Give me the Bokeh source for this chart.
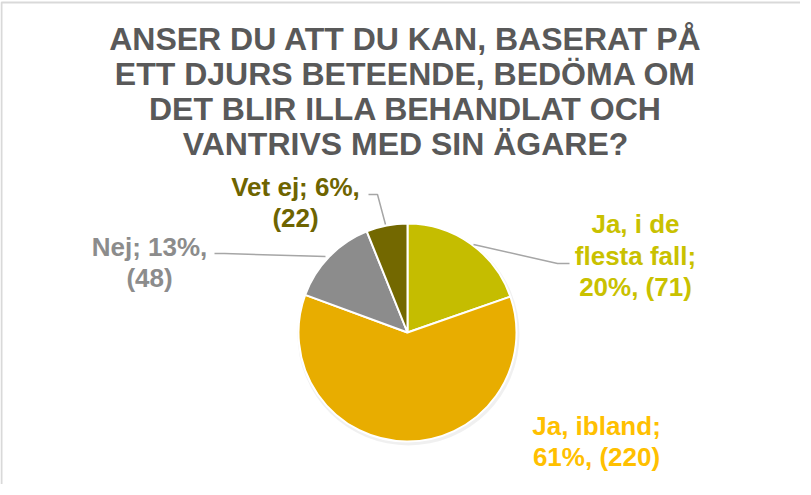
import numpy as np
import textwrap
from bokeh.plotting import figure
from bokeh.models import Range1d, ColumnDataSource
from bokeh.core.properties import value
from bokeh.embed import file_html
from bokeh.resources import INLINE

# ---- data ----
title_lines = ["ANSER DU ATT DU KAN, BASERAT PÅ",
               "ETT DJURS BETEENDE, BEDÖMA OM",
               "DET BLIR ILLA BEHANDLAT OCH",
               "VANTRIVS MED SIN ÄGARE?"]
categories = ["Ja, i de flesta fall", "Ja, ibland", "Nej", "Vet ej"]
counts = [71, 220, 48, 22]
percents = [20, 61, 13, 6]

# ---- styles / layout ----
slice_colors = ["#C5BD00", "#E8AD00", "#8C8C8C", "#736800"]
label_colors = ["#C9C100", "#FFC000", "#8C8C8C", "#6E6400"]
wrap_widths = [12, 11, 10, 11]
label_pos = [(643, 263), (604, 449), (157, 270), (303, 210)]  # reference pixel coords (block centres)
label_line_gap = 31.5
leaders = [[(481, 252), (565, 271), (577, 271)],
           None,
           [(222, 261), (232, 261), (333, 264)],
           [(376, 202), (385, 202), (393, 232)]]
title_x, title_y0, title_gap = 413, 46, 35

REF_H = 495
W, H = 800, 484
cx, cy, R = 415, 340, 109


def Y(y):
    return REF_H - y


p = figure(width=W, height=H, output_backend="svg", toolbar_location=None,
           x_range=Range1d(8, 8 + W), y_range=Range1d(REF_H - 8 - H, REF_H - 8),
           x_axis_location=None, y_axis_location=None, min_border=0)
p.grid.visible = False
p.outline_line_color = None
p.background_fill_color = "white"
p.border_fill_color = "white"

# chart-area border
p.line([9, 9, 811], [Y(495), Y(10), Y(10)], line_color="#D9D9D9", line_width=2)

# shadow
p.circle(x=[cx + 1], y=[Y(cy) - 2], radius=R + 2, fill_color="black", fill_alpha=0.06, line_color=None)

# pie
counts_arr = np.array(counts, dtype=float)
frac = counts_arr / counts_arr.sum()
cum_after = np.cumsum(frac)
cum_before = cum_after - frac
start = np.pi / 2 - 2 * np.pi * cum_before
end = np.pi / 2 - 2 * np.pi * cum_after
src = ColumnDataSource(dict(x=[cx] * 4, y=[Y(cy)] * 4, start=start, end=end,
                            color=slice_colors, cat=categories))
p.wedge(x="x", y="y", radius=R, start_angle="start", end_angle="end", direction="clock",
        fill_color="color", line_color="white", line_width=2, source=src)

# leader lines
xs, ys = [], []
for pts in leaders:
    if pts:
        xs.append([a for a, b in pts])
        ys.append([Y(b) for a, b in pts])
p.multi_line(xs, ys, line_color="#A6A6A6", line_width=1.5)

# data labels (one text per line)
lx, ly, lt, lc = [], [], [], []
for c, pc, n, w, (px, py), col in zip(categories, percents, counts, wrap_widths, label_pos, label_colors):
    lines = textwrap.wrap(f"{c}; {pc}%, ({n})", w)
    k = len(lines)
    for i, ln in enumerate(lines):
        lx.append(px)
        ly.append(Y(py + (i - (k - 1) / 2) * label_line_gap))
        lt.append(ln)
        lc.append(col)
p.text(x=lx, y=ly, text=lt, text_color=lc, text_font=value("Liberation Sans"),
       text_font_style="bold", text_font_size="26px", text_align="center", text_baseline="middle")

# title
p.text(x=[title_x] * len(title_lines),
       y=[Y(title_y0 + i * title_gap) for i in range(len(title_lines))],
       text=title_lines, text_color="#595959",
       text_font=value("Liberation Sans"), text_font_style="bold", text_font_size="32px",
       text_align="center", text_baseline="middle")

open("out.html", "w").write(file_html(p, INLINE))
